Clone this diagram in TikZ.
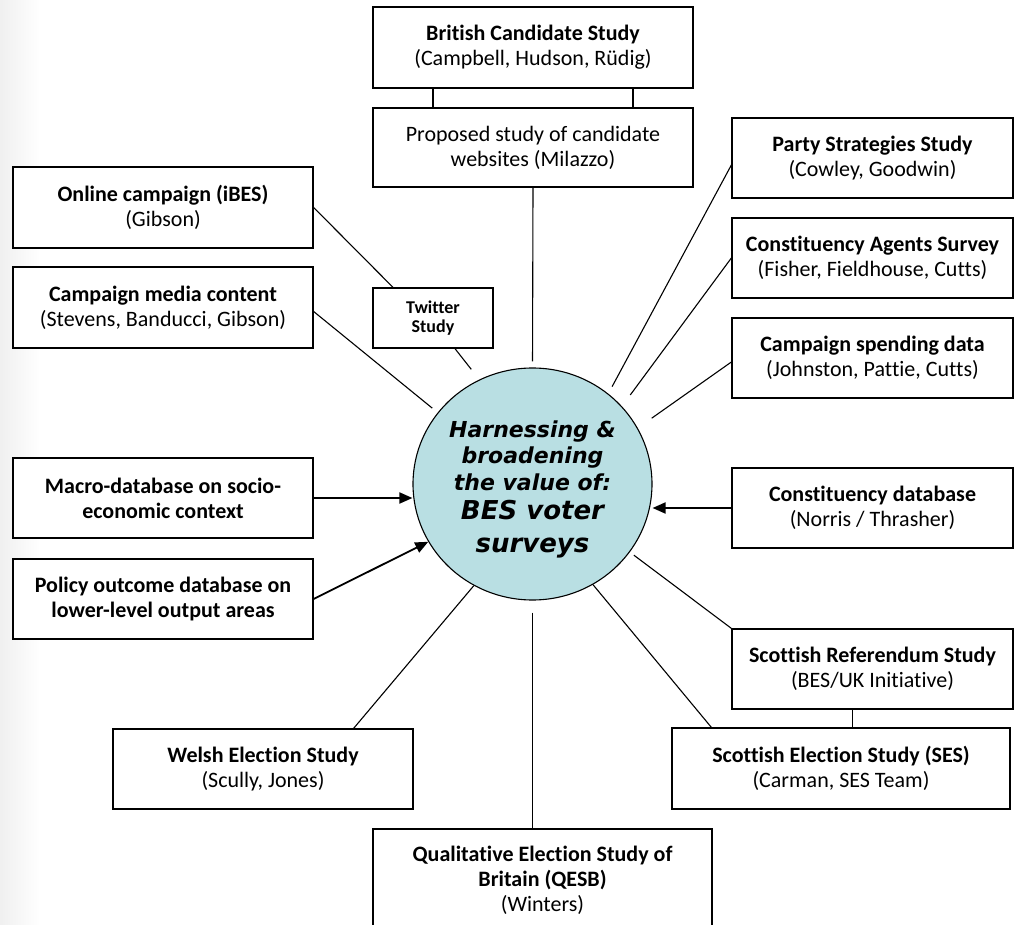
\documentclass[tikz,border=0pt]{standalone}
\usepackage{fontspec}
\setmainfont{Carlito}[Ligatures=NoCommon]
\newfontfamily\hubfont{DejaVu Sans}
\usetikzlibrary{arrows.meta, shapes.geometric}

\definecolor{hubblue}{RGB}{185,223,227}

\tikzset{
  study/.style={draw, line width=1.3pt, fill=white, align=center, inner sep=2pt,
    font=\fontsize{22}{25}\selectfont},
  hub/.style={ellipse, draw, line width=1.1pt, fill=hubblue, inner sep=0pt,
    minimum width=239pt, minimum height=232pt, align=center,
    font=\hubfont\fontsize{22}{26.7}\selectfont\bfseries\itshape},
  link/.style={line width=1.1pt},
  feed/.style={line width=1.8pt, -{Triangle[length=13pt,width=11pt]}},
}

\begin{document}
\begin{tikzpicture}[x=1pt, y=-1pt]
    \useasboundingbox (0,0) rectangle (1015,925);
    \shade[left color=black!6, right color=white] (0,0) rectangle (40,925);

    % Centro
    \node[hub] (hub) at (532.5,484) {\rule{0pt}{27pt}Harnessing \&\\
        broadening\\
        the value of:\\[2pt]
        \fontsize{26}{32}\selectfont BES voter\\[6pt]
        \fontsize{26}{32}\selectfont surveys};

    % Arriba
    \node[study, minimum width=320pt, minimum height=81pt] (bcs) at (533,47.5)
        {\textbf{British Candidate Study}\\(Campbell, Hudson, Rüdig)};
    \node[study, minimum width=320pt, minimum height=79pt] (prop) at (533,147.5)
        {Proposed study of candidate\\websites (Milazzo)};

    % Izquierda
    \node[study, minimum width=300pt, minimum height=81pt] (online) at (163,207.5)
        {\textbf{Online campaign (iBES)}\\(Gibson)};
    \node[study, minimum width=300pt, minimum height=81pt] (media) at (163,307.5)
        {\textbf{Campaign media content}\\(Stevens, Banducci, Gibson)};
    \node[study, minimum width=120pt, minimum height=60pt,
        font=\fontsize{18}{19.5}\selectfont\bfseries] (twitter) at (433,318) {Twitter\\Study};
    \node[study, minimum width=300pt, minimum height=80pt, font=\fontsize{22}{25}\selectfont\bfseries]
        (macro) at (163,498) {Macro-database on socio-\\economic context};
    \node[study, minimum width=300pt, minimum height=80pt, font=\fontsize{22}{25}\selectfont\bfseries]
        (policy) at (163,599) {Policy outcome database on\\lower-level output areas};

    % Derecha
    \node[study, minimum width=281pt, minimum height=80pt] (party) at (872.5,158)
        {\textbf{Party Strategies Study}\\(Cowley, Goodwin)};
    \node[study, minimum width=281pt, minimum height=80pt] (agents) at (872.5,258)
        {\textbf{Constituency Agents Survey}\\(Fisher, Fieldhouse, Cutts)};
    \node[study, minimum width=281pt, minimum height=80pt] (spending) at (872.5,358)
        {\textbf{Campaign spending data}\\(Johnston, Pattie, Cutts)};
    \node[study, minimum width=281pt, minimum height=80pt] (constdb) at (872.5,508)
        {\textbf{Constituency database}\\(Norris / Thrasher)};
    \node[study, minimum width=281pt, minimum height=80pt] (scotref) at (872.5,669)
        {\textbf{Scottish Referendum Study}\\(BES/UK Initiative)};

    % Abajo
    \node[study, minimum width=338pt, minimum height=81pt] (scotel) at (841,768.5)
        {\textbf{Scottish Election Study (SES)}\\(Carman, SES Team)};
    \node[study, minimum width=300pt, minimum height=80pt] (welsh) at (263,769)
        {\textbf{Welsh Election Study}\\(Scully, Jones)};
    \node[study, minimum width=339pt, minimum height=102pt] (qual) at (542.5,880)
        {\textbf{Qualitative Election Study of}\\\textbf{Britain (QESB)}\\(Winters)};

    % Conexiones
    \draw[link] ([xshift=-100pt]bcs.south) -- ([xshift=-100pt]prop.north);
    \draw[link] ([xshift=100pt]bcs.south) -- ([xshift=100pt]prop.north);
    \draw[link, shorten >=6pt] (prop.south) -- (hub.north);
    \draw[link] (online.east) -- ([xshift=-40pt]twitter.north);
    \draw[link, shorten >=13pt] ([xshift=22pt]twitter.south) -- (hub.117);
    \draw[link, shorten >=7pt] ([yshift=-4pt]media.east) -- (hub.143);
    \draw[link, shorten >=8pt] ([yshift=-7pt]party.west) -- (hub.50);
    \draw[link, shorten >=14pt] (agents.west) -- (hub.41);
    \draw[link, shorten >=17pt] ([yshift=-4pt]spending.west) -- (hub.28);
    \draw[link, shorten >=5pt] (scotref.north west) -- (hub.-35);
    \draw[link] ([xshift=40pt]scotel.north west) -- (hub.-59);
    \draw[link] ([xshift=-60pt]welsh.north east) -- (hub.-120);
    \draw[link, shorten <=12pt] (hub.south) -- (hub.south |- qual.north);
    \draw[link] ([xshift=-20pt]scotref.south) -- ([xshift=-20pt]scotref.south |- scotel.north);

    % Flechas
    \draw[feed] (macro.east) -- (macro.east -| hub.west);
    \draw[feed] (policy.east) -- (hub.209);
    \draw[feed] (constdb.west) -- (constdb.west -| hub.east);
\end{tikzpicture}
\end{document}
